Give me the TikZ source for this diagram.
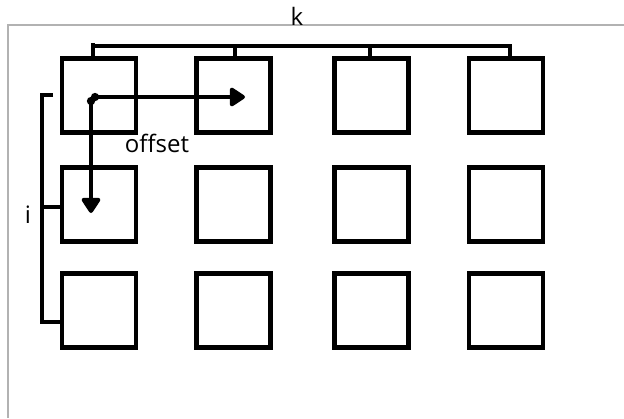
\documentclass[tikz,border=0pt]{standalone}
\usepackage{fontspec}
\setmainfont{Open Sans}
\usetikzlibrary{arrows.meta}
\begin{document}
\begin{tikzpicture}[x=1pt,y=-1pt,
  cell/.style={draw=black,line width=4.5pt,minimum size=74pt,inner sep=0pt,outer sep=0pt},
  brace/.style={draw=black,line width=4pt},
  arr/.style={draw=black,line width=4pt,{Circle[length=8pt,width=8pt]}-{Triangle[round,length=17pt,width=21pt]}},
  lbl/.style={font=\fontsize{24}{28}\selectfont,inner sep=0pt,anchor=base}]
\useasboundingbox (0,0) rectangle (624,418);
\draw[draw=black!30,line width=2pt] (8,418) -- (8,25) -- (626,25);
\foreach \c/\x in {1/99,2/233.5,3/371.5,4/506}{
  \foreach \r/\y in {1/95.5,2/204.5,3/310.5}{
    \node[cell] (s\r\c) at (\x,\y) {};
  }
}
% top bracket
\coordinate (t1) at (93,46);
\coordinate (t4) at (510,46);
\draw[brace] (t1) -- (t4);
\draw[brace] (93,43) -- (93,46 |- s11.north);
\draw[brace] (235,46) -- (235,46 |- s12.north);
\draw[brace] (370,46) -- (370,46 |- s13.north);
\draw[brace] (510,44) -- (510,56);
\node[lbl] (k) at (297,25) {k};
% left bracket
\coordinate (l1) at (42,95);
\coordinate (l3) at (42,322);
\draw[brace] (53,95) -- (l1) -- (l3) -- (s31.west |- l3);
\draw[brace] (42,207) -- (s21.west |- 0,207);
\node[lbl] (i) at (28,223) {i};
% offset arrows
\coordinate (o) at (91,97);
\coordinate (h) at (245,97);
\coordinate (v) at (93,213);
\draw[arr] (o) -- (h);
\draw[arr] (o) -- (o |- v);
\node[lbl] (off) at (157,152) {offset};
\end{tikzpicture}
\end{document}
